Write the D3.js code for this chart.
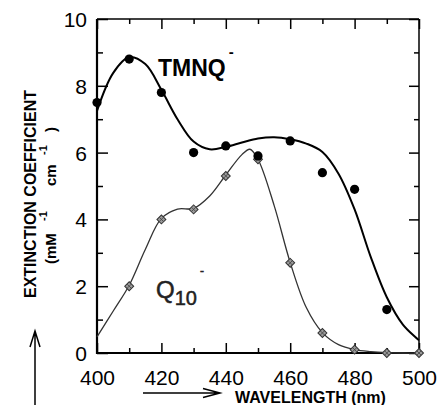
<!DOCTYPE html>
<html lang="en">
<head>
  <meta charset="UTF-8">
  <title>Extinction spectra</title>
  <style>
    html, body { margin: 0; padding: 0; background: #fff; }
    svg { display: block; font-family: "Liberation Sans", Arial, Helvetica, sans-serif; }
  </style>
</head>
<body>
  <script src="https://d3js.org/d3.v7.min.js"></script>
  <script>
    // measured points
    const tmnqWl = [400, 410, 420, 430, 440, 450, 460, 470, 480, 490]
    const tmnqVal = [7.5, 8.8, 7.8, 6.0, 6.2, 5.9, 6.35, 5.4, 4.9, 1.3]
    const q10Wl = [410, 420, 430, 440, 450, 460, 470, 480, 490, 500]
    const q10Val = [2.0, 4.0, 4.3, 5.3, 5.8, 2.7, 0.6, 0.1, 0.0, 0.0]

    // fitted curves
    const tmnqFitWl = [400, 405, 410, 415, 420, 425, 430, 435, 440, 445, 450, 455, 460, 465, 470, 475, 480, 485, 490, 495, 500]
    const tmnqFit = [7.25, 8.38, 8.86, 8.65, 7.88, 7.0, 6.33, 6.1, 6.17, 6.3, 6.42, 6.46, 6.4, 6.27, 6.02, 5.37, 4.3, 2.88, 1.67, 0.85, 0.38]
    const q10FitWl = [400, 405, 410, 415, 420, 425, 430, 435, 440, 445, 447.5, 450, 455, 460, 465, 470, 475, 480, 485, 490, 495, 500]
    const q10Fit = [0.48, 1.25, 2.03, 3.1, 4.03, 4.31, 4.33, 4.7, 5.33, 5.94, 6.1, 5.8, 4.42, 2.71, 1.36, 0.61, 0.25, 0.1, 0.04, 0.01, 0.0, 0.0]

    const xMajor = [400, 420, 440, 460, 480, 500]
    const xMinor = [410, 430, 450, 470, 490]
    const yMajor = [0, 2, 4, 6, 8, 10]
    const yMinor = [1, 3, 5, 7, 9]

    const width = 437
    const height = 405
    const margin = { left: 97, right: 18, top: 19, bottom: 52 }
    const innerW = width - margin.left - margin.right
    const innerH = height - margin.top - margin.bottom

    const x = d3.scaleLinear().domain([400, 500]).range([0, innerW])
    const y = d3.scaleLinear().domain([0, 10]).range([innerH, 0])

    const svg = d3.select('body')
      .append('svg')
      .attr('width', width)
      .attr('height', height)

    svg.append('rect').attr('width', width).attr('height', height).attr('fill', '#fff')

    const g = svg.append('g').attr('transform', `translate(${margin.left},${margin.top})`)

    // axes: major ticks with labels, minor ticks without, all pointing inward
    g.append('g')
      .attr('transform', `translate(0,${innerH})`)
      .call(d3.axisBottom(x).tickValues(xMajor).tickSize(-10).tickPadding(0).tickFormat(d3.format('d')))
      .call(a => a.selectAll('text').attr('y', 32).attr('dy', 0))
    g.append('g')
      .attr('transform', `translate(0,${innerH})`)
      .call(d3.axisBottom(x).tickValues(xMinor).tickSize(-5).tickFormat(''))
    g.append('g')
      .call(d3.axisTop(x).tickValues(xMajor).tickSize(-10).tickFormat(''))
    g.append('g')
      .call(d3.axisTop(x).tickValues(xMinor).tickSize(-5).tickFormat(''))

    g.append('g')
      .call(d3.axisLeft(y).tickValues(yMajor).tickSize(-11).tickPadding(10).tickFormat(d3.format('d')))
      .call(a => a.selectAll('text').attr('dy', '0.36em'))
    g.append('g')
      .call(d3.axisLeft(y).tickValues(yMinor).tickSize(-6).tickFormat(''))
    g.append('g')
      .attr('transform', `translate(${innerW},0)`)
      .call(d3.axisRight(y).tickValues(yMajor).tickSize(-10).tickFormat(''))
    g.append('g')
      .attr('transform', `translate(${innerW},0)`)
      .call(d3.axisRight(y).tickValues(yMinor).tickSize(-5).tickFormat(''))

    g.selectAll('.domain').remove()
    g.selectAll('.tick line').attr('stroke', '#000').attr('stroke-width', 1.5)
    g.selectAll('.tick text')
      .attr('fill', '#000')
      .style('font-size', '21px')
      .style('font-family', '"Liberation Sans", Arial, Helvetica, sans-serif')

    // frame
    g.append('line').attr('x1', 0).attr('x2', innerW).attr('y1', 0).attr('y2', 0)
      .attr('stroke', '#000').attr('stroke-width', 1.5)
    g.append('line').attr('x1', innerW).attr('x2', innerW).attr('y1', 0).attr('y2', innerH)
      .attr('stroke', '#000').attr('stroke-width', 1.5)
    g.append('line').attr('x1', 0).attr('x2', 0).attr('y1', 0).attr('y2', innerH + 1)
      .attr('stroke', '#000').attr('stroke-width', 2.2)
    g.append('line').attr('x1', -1).attr('x2', innerW).attr('y1', innerH).attr('y2', innerH)
      .attr('stroke', '#000').attr('stroke-width', 2.2)

    // fitted curves
    const line = d3.line()
      .x(d => x(d[0]))
      .y(d => y(d[1]))
      .curve(d3.curveCatmullRom.alpha(0.5))

    g.append('path')
      .datum(q10FitWl.map((w, i) => [w, q10Fit[i]]))
      .attr('d', line)
      .attr('fill', 'none')
      .attr('stroke', '#333')
      .attr('stroke-width', 1.3)

    g.append('path')
      .datum(tmnqFitWl.map((w, i) => [w, tmnqFit[i]]))
      .attr('d', line)
      .attr('fill', 'none')
      .attr('stroke', '#000')
      .attr('stroke-width', 2)

    // Q10 diamonds
    const diamond = d3.symbol().type(d3.symbolSquare).size(40)
    const dg = g.selectAll('.q10')
      .data(q10Wl.map((w, i) => [w, q10Val[i]]))
      .enter()
      .append('g')
      .attr('class', 'q10')
      .attr('transform', d => `translate(${x(d[0])},${y(d[1])}) rotate(45)`)
    dg.append('path')
      .attr('d', diamond)
      .attr('fill', '#999')
      .attr('stroke', '#333')
      .attr('stroke-width', 1)
    dg.append('path')
      .attr('d', 'M-3,0H3M0,-3V3')
      .attr('stroke', '#444')
      .attr('stroke-width', 0.8)

    // TMNQ circles
    g.selectAll('.tmnq')
      .data(tmnqWl.map((w, i) => [w, tmnqVal[i]]))
      .enter()
      .append('circle')
      .attr('class', 'tmnq')
      .attr('cx', d => x(d[0]))
      .attr('cy', d => y(d[1]))
      .attr('r', 4.6)
      .attr('fill', '#000')

    // series labels
    const tm = svg.append('text')
      .attr('x', 158)
      .attr('y', 76)
      .style('font-size', '23px')
      .style('font-weight', 'bold')
      .text('TMNQ')
    tm.append('tspan')
      .attr('dx', 3)
      .attr('dy', -19)
      .style('font-size', '15px')
      .text('-')

    const q = svg.append('text')
      .attr('x', 156)
      .attr('y', 298)
      .attr('fill', '#222')
      .attr('stroke', '#222')
      .attr('stroke-width', 0.5)
      .style('font-size', '24px')
      .text('Q')
    q.append('tspan')
      .attr('dy', 7)
      .style('font-size', '20px')
      .text('10')
    q.append('tspan')
      .attr('dx', 3)
      .attr('dy', -30)
      .style('font-size', '12px')
      .text('-')

    // axis titles
    svg.append('text')
      .attr('transform', 'translate(36,194) rotate(-90)')
      .attr('text-anchor', 'middle')
      .style('font-size', '16px')
      .style('font-weight', 'bold')
      .text('EXTINCTION COEFFICIENT')

    const unit = svg.append('g')
      .attr('transform', 'translate(56,194) rotate(-90)')
      .style('font-size', '15px')
      .style('font-weight', 'bold')
    unit.append('text').attr('x', -70).text('(mM')
    unit.append('text').attr('x', -27).attr('y', -9).style('font-size', '11px').text('-1')
    unit.append('text').attr('x', 8).text('cm')
    unit.append('text').attr('x', 39).attr('y', -9).style('font-size', '11px').text('-1')
    unit.append('text').attr('x', 62).text(')')

    svg.append('text')
      .attr('x', 235)
      .attr('y', 403)
      .style('font-size', '16px')
      .style('font-weight', 'bold')
      .text('WAVELENGTH (nm)')

    // direction arrows
    svg.append('path')
      .attr('d', 'M35,405V331M30,347L35,331L40,347')
      .attr('fill', 'none')
      .attr('stroke', '#000')
      .attr('stroke-width', 1.5)
    svg.append('path')
      .attr('d', 'M143,393H220M203,388.5L220,393L203,397.5')
      .attr('fill', 'none')
      .attr('stroke', '#000')
      .attr('stroke-width', 1.5)
  </script>
</body>
</html>
